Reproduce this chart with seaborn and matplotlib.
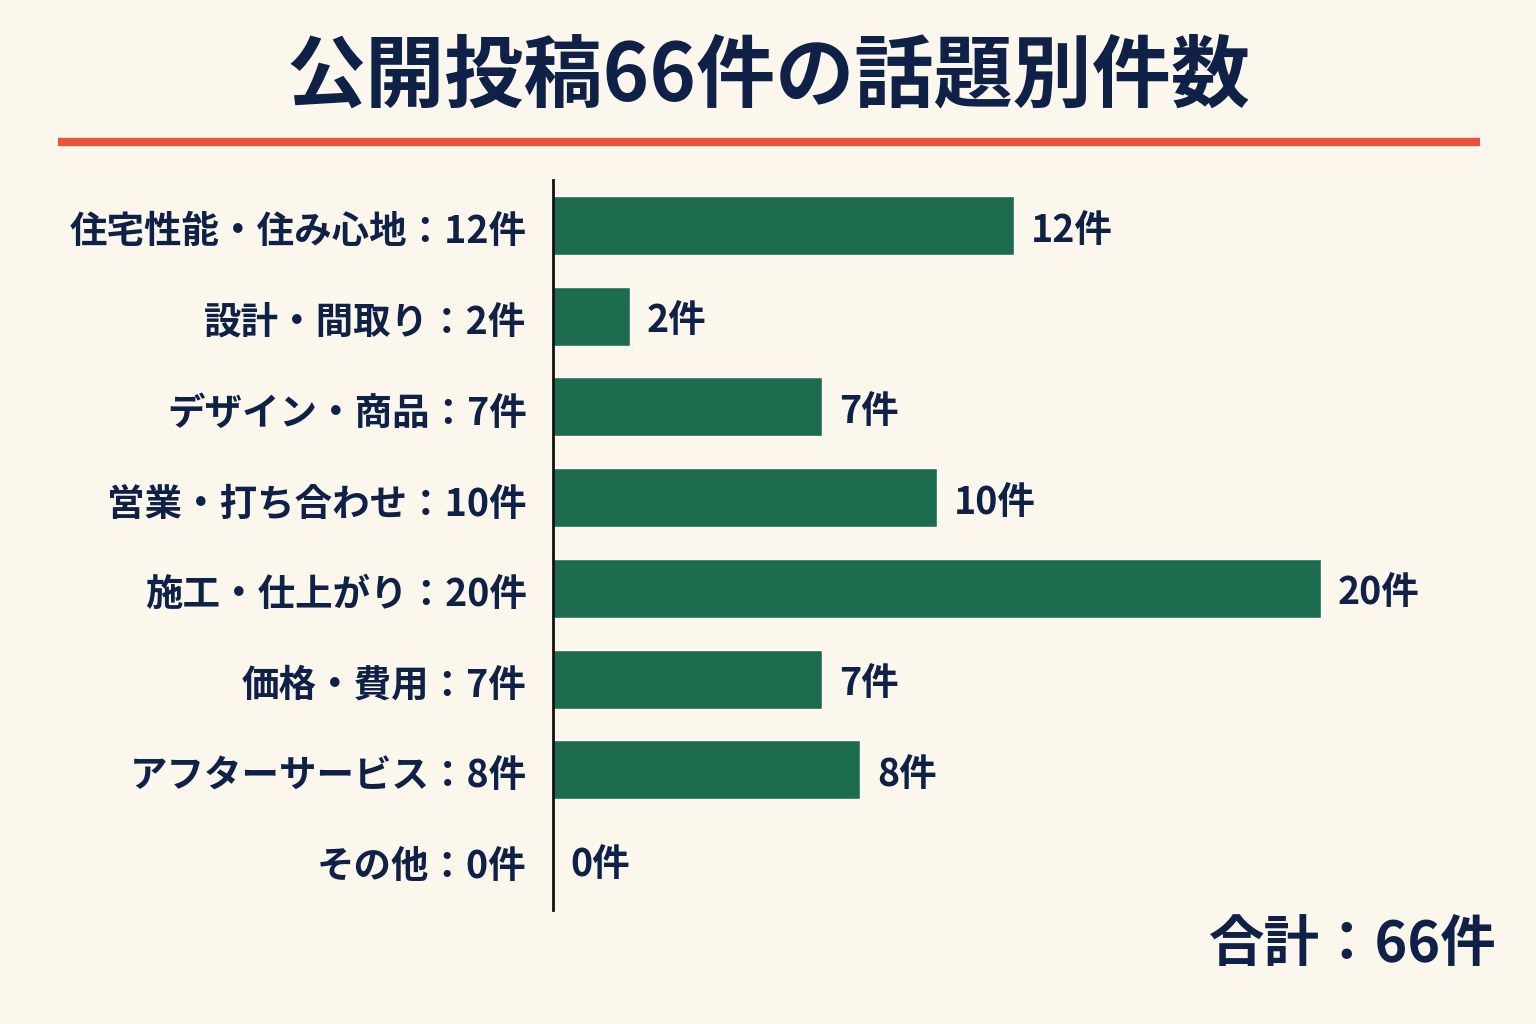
import pandas as pd
import matplotlib.pyplot as plt
import matplotlib.transforms as mtransforms
import seaborn as sns

# topic categories and counts of the 66 public posts
categories = ['住宅性能・住み心地', '設計・間取り', 'デザイン・商品', '営業・打ち合わせ',
              '施工・仕上がり', '価格・費用', 'アフターサービス', 'その他']
counts = [12, 2, 7, 10, 20, 7, 8, 0]
title = '公開投稿66件の話題別件数'
total_label = '合計：66件'

bg = '#fcf7ec'
navy = '#0f2147'
green = '#1d6b4d'
red = '#e9533b'

sns.set_theme(style='white')
plt.rcParams['font.family'] = ['Noto Sans CJK JP', 'DejaVu Sans']
plt.rcParams['font.weight'] = 'bold'

df = pd.DataFrame({'label': [f'{c}：{n}件' for c, n in zip(categories, counts)],
                   'count': counts})

fig = plt.figure(figsize=(15.36, 10.24), dpi=100, facecolor=bg)
ax = fig.add_axes([0.36, 0.111, 0.604, 0.713])
ax.set_facecolor(bg)

sns.barplot(data=df, x='count', y='label', color=green, saturation=1,
            width=0.65, ax=ax)

ax.set_xlim(0, 24.17)
ax.set_ylim(7.55, -0.5)
ax.set_xlabel('')
ax.set_ylabel('')
ax.set_xticks([])
sns.despine(ax=ax, top=True, right=True, bottom=True)
ax.spines['left'].set_color('#111111')
ax.spines['left'].set_linewidth(2)
ax.tick_params(axis='y', length=0, pad=19)
shift = mtransforms.ScaledTranslation(0, -1.5 / 72, fig.dpi_scale_trans)
for t in ax.get_yticklabels():
    t.set_fontsize(27)
    t.set_fontweight('bold')
    t.set_color(navy)
    t.set_transform(t.get_transform() + shift)

# value labels at bar ends
for i, n in enumerate(counts):
    ax.text(n + 0.45, i + 0.05, f'{n}件', va='center', ha='left', fontsize=27,
            fontweight='bold', color=navy)

fig.text(0.5, 0.925, title, ha='center', va='center', fontsize=57,
         fontweight='bold', color=navy)
fig.add_artist(plt.Line2D([58 / 1536, 1480 / 1536], [1 - 142 / 1024, 1 - 142 / 1024],
                          color=red, linewidth=6, solid_capstyle='butt',
                          transform=fig.transFigure))
fig.text(1497 / 1536, 1 - 945 / 1024, total_label, ha='right', va='center',
         fontsize=40, fontweight='bold', color=navy)

fig.savefig('out.png', dpi=100, facecolor=bg)
